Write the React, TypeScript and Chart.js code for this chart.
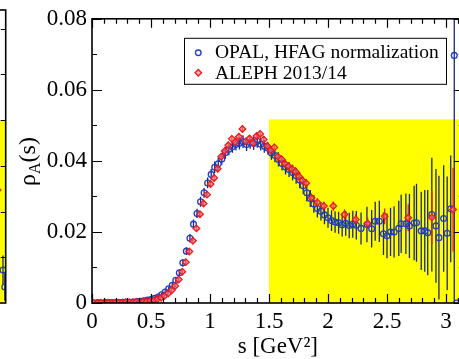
import React, { useEffect, useRef } from "react";
import { Chart, registerables } from "chart.js";
Chart.register(...registerables);

// ---------------- data ----------------
const opalS = [0.02, 0.05, 0.08, 0.11, 0.14, 0.17, 0.2, 0.23, 0.26, 0.29, 0.32, 0.35, 0.38, 0.41, 0.44,
  0.47, 0.5, 0.53, 0.56, 0.59, 0.62, 0.65, 0.68, 0.71, 0.74, 0.77, 0.8, 0.83, 0.86, 0.89, 0.92, 0.95, 0.98,
  1.01, 1.04, 1.07, 1.1, 1.13, 1.16, 1.19, 1.22, 1.25, 1.28, 1.31, 1.34, 1.37, 1.4, 1.43, 1.46, 1.49,
  1.52, 1.55, 1.58, 1.61, 1.64, 1.67, 1.7, 1.73, 1.76, 1.79, 1.82, 1.85, 1.88, 1.91, 1.94, 1.97,
  2.0, 2.03, 2.06, 2.09, 2.12, 2.15, 2.18, 2.21, 2.24, 2.28, 2.33, 2.37, 2.4, 2.435, 2.47, 2.5, 2.53,
  2.56, 2.6, 2.62, 2.66, 2.69, 2.73, 2.75, 2.79, 2.82, 2.845, 2.88, 2.915, 2.94, 2.98, 3.01, 3.04, 3.07, 3.09];
const opalV = [0.0, 0.0001, 0.0, 0.0001, 0.0001, 0.0001, 0.0, 0.0001, 0.0002, 0.0002, 0.0002, 0.0003, 0.0004, 0.0005, 0.0006,
  0.0008, 0.001, 0.0013, 0.0017, 0.0023, 0.0031, 0.004, 0.005, 0.0064, 0.0085, 0.0113, 0.0146, 0.0182, 0.0222, 0.0252, 0.0285, 0.031, 0.0338,
  0.0362, 0.0382, 0.0392, 0.0405, 0.0423, 0.0433, 0.044, 0.0446, 0.045, 0.0454, 0.0446, 0.0452, 0.0449, 0.0455, 0.0447, 0.0441, 0.0436,
  0.0422, 0.0415, 0.0404, 0.0393, 0.0383, 0.0376, 0.0367, 0.0358, 0.0346, 0.033, 0.031, 0.0294, 0.0279, 0.0266, 0.0258, 0.0248,
  0.024, 0.0232, 0.0228, 0.0226, 0.022, 0.0224, 0.0218, 0.0222, 0.0219, 0.021, 0.0221, 0.0209, 0.023, 0.023, 0.0195, 0.0189, 0.02,
  0.02, 0.021, 0.0223, 0.0223, 0.0217, 0.0225, 0.0226, 0.0203, 0.0203, 0.0198, 0.0249, 0.0217, 0.0184, 0.0238, 0.0196, 0.0265, 0.0697, 0.0];
const opalErr = [0.0002, 0.0002, 0.0002, 0.0002, 0.0002, 0.0002, 0.0002, 0.0002, 0.0002, 0.0002, 0.0002, 0.0002, 0.0002, 0.0002, 0.0002,
  0.0003, 0.0003, 0.0004, 0.0004, 0.0005, 0.0005, 0.0006, 0.0007, 0.0008, 0.0009, 0.001, 0.0011, 0.0012, 0.0013, 0.0013, 0.0014, 0.0014, 0.0015,
  0.0015, 0.0016, 0.0016, 0.0016, 0.0017, 0.0017, 0.0017, 0.0017, 0.0018, 0.0018, 0.0018, 0.0018, 0.0018, 0.0018, 0.0018, 0.0018, 0.0018,
  0.0019, 0.0019, 0.002, 0.002, 0.0021, 0.0021, 0.0022, 0.0022, 0.0023, 0.0023, 0.0024, 0.0024, 0.0025, 0.0025, 0.0026, 0.0026,
  0.0028, 0.0029, 0.003, 0.0031, 0.0033, 0.0035, 0.0036, 0.0038, 0.004, 0.0045, 0.005, 0.0053, 0.0055, 0.0058, 0.006, 0.0063, 0.0068,
  0.0072, 0.0078, 0.0082, 0.0085, 0.009, 0.0105, 0.011, 0.011, 0.0115, 0.012, 0.016, 0.016, 0.0174, 0.015, 0.016, 0.015, 0.09, 0.0];

const alephS = [0.015, 0.045, 0.075, 0.105, 0.135, 0.165, 0.195, 0.225, 0.255, 0.285, 0.315, 0.345, 0.375, 0.405, 0.435,
  0.465, 0.495, 0.525, 0.555, 0.585, 0.615, 0.645, 0.675, 0.705, 0.735, 0.765, 0.795, 0.825, 0.855, 0.885, 0.915, 0.945, 0.975,
  1.005, 1.035, 1.065, 1.095, 1.125, 1.155, 1.185, 1.215, 1.245, 1.275, 1.305, 1.335, 1.365, 1.395, 1.425, 1.455, 1.485,
  1.515, 1.545, 1.575, 1.605, 1.635, 1.665, 1.695, 1.725, 1.755, 1.785, 1.815,
  1.86, 1.91, 1.965, 2.045, 2.14, 2.235, 2.336, 2.48, 2.68, 2.88, 3.06];
const alephV = [0.0, 0.0, 0.0001, 0.0, 0.0001, 0.0, 0.0001, 0.0001, 0.0001, 0.0002, 0.0002, 0.0002, 0.0003, 0.0003, 0.0004,
  0.0005, 0.0006, 0.0008, 0.0011, 0.0015, 0.002, 0.0027, 0.0036, 0.0048, 0.0066, 0.0088, 0.0115, 0.0145, 0.0175, 0.021, 0.025, 0.028, 0.0305,
  0.0335, 0.0352, 0.0378, 0.0412, 0.0428, 0.0444, 0.0462, 0.0453, 0.0468, 0.049, 0.0455, 0.0463, 0.045, 0.047, 0.0476, 0.046, 0.0442,
  0.043, 0.0438, 0.0412, 0.0405, 0.0392, 0.0385, 0.0377, 0.037, 0.0356, 0.0345, 0.0337,
  0.0296, 0.0283, 0.0273, 0.0273, 0.0249, 0.0235, 0.0224, 0.0244, 0.024, 0.0241, 0.0263];
const alephErr = [0.0001, 0.0001, 0.0001, 0.0001, 0.0001, 0.0001, 0.0001, 0.0001, 0.0001, 0.0001, 0.0001, 0.0001, 0.0001, 0.0001, 0.0001,
  0.0001, 0.0002, 0.0002, 0.0002, 0.0003, 0.0003, 0.0003, 0.0004, 0.0004, 0.0005, 0.0005, 0.0006, 0.0006, 0.0007, 0.0007, 0.0008, 0.0008, 0.0009,
  0.0009, 0.001, 0.001, 0.001, 0.001, 0.001, 0.001, 0.001, 0.001, 0.001, 0.001, 0.001, 0.001, 0.001, 0.001, 0.001, 0.001,
  0.0011, 0.0011, 0.0011, 0.0011, 0.0011, 0.0011, 0.0012, 0.0012, 0.0012, 0.0012, 0.0012,
  0.0012, 0.0012, 0.0012, 0.0013, 0.0015, 0.0015, 0.0016, 0.0022, 0.0038, 0.0075, 0.0118];

const xTickValues = [0, 0.5, 1, 1.5, 2, 2.5, 3];
const yTickValues = [0, 0.02, 0.04, 0.06, 0.08];
const xMinorStep = 0.1;
const yMinorStep = 0.01;
const xRange = [0, 3.15];
const yRange = [0, 0.08];
const yellowFromS = 1.5;
const yellowTop = 0.0517;
const legendLabels = ["OPAL, HFAG normalization", "ALEPH 2013/14"];
const xTitle = "s [GeV\u00B2]";

// neighbouring panel (only its right edge is visible)
const fragRedS = [0.91];
const fragRedV = [2.47];
const fragRedErr = [1.55];
const fragBlueS = [0.97, 0.99];
const fragBlueV = [0.72, 0.35];
const fragBlueErr = [0.32, 0.3];
const fragYellowTop = 4;
const fragYRange = [0, 6.41];
const fragTickValues = [1, 2, 3, 4, 5, 6];

// ---------------- styles ----------------
const FONT = "'Liberation Serif', 'DejaVu Serif', serif";
const BLUE = "#1f3fc0";
const BLUE_BAR = "#18247e";
const RED = "#f01818";
const YELLOW = "#ffff00";

function pts(xs: number[], ys: number[]) {
  return xs.map((x, i) => ({ x, y: ys[i] }));
}

function drawErrors(ctx: CanvasRenderingContext2D, xs: any, ys: any, sArr: number[], vArr: number[], eArr: number[], color: string) {
  ctx.strokeStyle = color;
  ctx.lineWidth = 1.3;
  ctx.beginPath();
  for (let i = 0; i < sArr.length; i++) {
    if (!eArr[i]) continue;
    const px = xs.getPixelForValue(sArr[i]);
    ctx.moveTo(px, ys.getPixelForValue(vArr[i] - eArr[i]));
    ctx.lineTo(px, ys.getPixelForValue(vArr[i] + eArr[i]));
  }
  ctx.stroke();
}

const mainPlugin = {
  id: "mainDeco",
  beforeDatasetsDraw(chart: any) {
    const { ctx, chartArea: ca } = chart;
    const xs = chart.scales.x, ys = chart.scales.y;
    ctx.save();
    ctx.beginPath();
    ctx.rect(ca.left, ca.top, ca.right - ca.left, ca.bottom - ca.top);
    ctx.clip();
    const x0 = xs.getPixelForValue(yellowFromS);
    const yT = ys.getPixelForValue(yellowTop);
    ctx.fillStyle = YELLOW;
    ctx.fillRect(x0, yT, ca.right - x0, ys.getPixelForValue(0) - yT);
    drawErrors(ctx, xs, ys, opalS, opalV, opalErr, BLUE_BAR);
    drawErrors(ctx, xs, ys, alephS, alephV, alephErr, RED);
    ctx.restore();
  },
  afterDatasetsDraw(chart: any) {
    const { ctx, chartArea: ca } = chart;
    const xs = chart.scales.x, ys = chart.scales.y;
    ctx.save();
    // ticks (inward)
    ctx.strokeStyle = "#000";
    ctx.lineWidth = 1.2;
    ctx.beginPath();
    const nx = Math.round((xRange[1] - xRange[0]) / xMinorStep);
    for (let k = 0; k <= nx; k++) {
      const v = xRange[0] + k * xMinorStep;
      if (v > xRange[1] + 1e-9) break;
      const major = k % 5 === 0;
      const len = major ? 9 : 5;
      const px = Math.round(xs.getPixelForValue(v)) + 0.5;
      ctx.moveTo(px, ca.bottom); ctx.lineTo(px, ca.bottom - len);
      ctx.moveTo(px, ca.top); ctx.lineTo(px, ca.top + len);
    }
    const ny = Math.round((yRange[1] - yRange[0]) / yMinorStep);
    for (let k = 0; k <= ny; k++) {
      const v = yRange[0] + k * yMinorStep;
      const major = k % 2 === 0;
      const len = major ? 10 : 5;
      const py = Math.round(ys.getPixelForValue(v)) + 0.5;
      ctx.moveTo(ca.left, py); ctx.lineTo(ca.left + len, py);
      ctx.moveTo(ca.right, py); ctx.lineTo(ca.right - len, py);
    }
    ctx.stroke();
    // frame
    ctx.lineWidth = 1.6;
    ctx.strokeRect(ca.left, ca.top, ca.right - ca.left, ca.bottom - ca.top);

    // legend box
    const lx = ca.left + 92.5, ly = ca.top + 19.5, lw = 262, lh = 46;
    ctx.fillStyle = "#fff";
    ctx.fillRect(lx, ly, lw, lh);
    ctx.lineWidth = 1;
    ctx.strokeStyle = "#000";
    ctx.strokeRect(lx, ly, lw, lh);
    ctx.font = `19.5px ${FONT}`;
    ctx.fillStyle = "#000";
    ctx.textBaseline = "alphabetic";
    ctx.textAlign = "left";
    ctx.fillText(legendLabels[0], lx + 30.5, ly + 35.5 - 16);
    ctx.fillText(legendLabels[1], lx + 30.5, ly + 56.5 - 16);
    // legend markers
    const mx = lx + 13.8;
    ctx.lineWidth = 1.3;
    ctx.strokeStyle = BLUE;
    ctx.beginPath();
    ctx.arc(mx, ly + 14.5, 2.8, 0, Math.PI * 2);
    ctx.stroke();
    ctx.strokeStyle = RED;
    ctx.fillStyle = "rgba(255,120,120,0.6)";
    ctx.beginPath();
    const my = ly + 34.5, r = 3.3;
    ctx.moveTo(mx, my - r); ctx.lineTo(mx + r, my); ctx.lineTo(mx, my + r); ctx.lineTo(mx - r, my); ctx.closePath();
    ctx.fill(); ctx.stroke();

    // y title: rho_A(s)
    ctx.fillStyle = "#000";
    ctx.translate(35, 161.5);
    ctx.rotate(-Math.PI / 2);
    ctx.font = `24px ${FONT}`;
    const w1 = ctx.measureText("\u03C1").width;
    const w3 = ctx.measureText("(s)").width;
    ctx.font = `16px ${FONT}`;
    const w2 = ctx.measureText("A").width;
    let x = -(w1 + w2 + w3) / 2;
    ctx.font = `24px ${FONT}`;
    ctx.fillText("\u03C1", x, 0);
    x += w1;
    ctx.font = `16px ${FONT}`;
    ctx.fillText("A", x, 5);
    x += w2;
    ctx.font = `24px ${FONT}`;
    ctx.fillText("(s)", x, 0);
    ctx.restore();
  },
};

const fragPlugin = {
  id: "fragDeco",
  beforeDatasetsDraw(chart: any) {
    const { ctx, chartArea: ca } = chart;
    const xs = chart.scales.x, ys = chart.scales.y;
    ctx.save();
    const yT = ys.getPixelForValue(fragYellowTop);
    ctx.fillStyle = YELLOW;
    ctx.fillRect(ca.left, yT, ca.right - ca.left, ca.bottom - yT);
    drawErrors(ctx, xs, ys, fragBlueS, fragBlueV, fragBlueErr, BLUE_BAR);
    drawErrors(ctx, xs, ys, fragRedS, fragRedV, fragRedErr, RED);
    ctx.restore();
  },
  afterDatasetsDraw(chart: any) {
    const { ctx, chartArea: ca } = chart;
    const ys = chart.scales.y;
    ctx.save();
    ctx.strokeStyle = "#000";
    ctx.lineWidth = 1.2;
    ctx.beginPath();
    for (const v of fragTickValues) {
      const py = Math.round(ys.getPixelForValue(v)) + 0.5;
      ctx.moveTo(ca.right, py); ctx.lineTo(ca.right - 5, py);
    }
    ctx.stroke();
    ctx.lineWidth = 1.6;
    ctx.strokeRect(ca.left, ca.top, ca.right - ca.left, ca.bottom - ca.top);
    ctx.restore();
  },
};

export default function App() {
  const mainRef = useRef<HTMLCanvasElement>(null);
  const fragRef = useRef<HTMLCanvasElement>(null);

  useEffect(() => {
    document.body.style.margin = "0";
    document.body.style.overflow = "hidden";
    const tickFont = { family: FONT, size: 23 };
    const main = new Chart(mainRef.current as HTMLCanvasElement, {
      type: "scatter",
      data: {
        datasets: [
          {
            label: legendLabels[0],
            data: pts(opalS, opalV),
            pointStyle: "circle",
            pointRadius: 2.9,
            borderWidth: 1.3,
            borderColor: BLUE,
            backgroundColor: "rgba(255,255,255,0)",
            showLine: false,
            order: 1,
          },
          {
            label: legendLabels[1],
            data: pts(alephS, alephV),
            pointStyle: "rectRot",
            pointRadius: 3.3,
            borderWidth: 1.3,
            borderColor: RED,
            backgroundColor: "rgba(255,120,120,0.6)",
            showLine: false,
            order: 0,
          },
        ],
      },
      options: {
        responsive: false,
        animation: false,
        devicePixelRatio: 1,
        layout: { padding: { left: 0, top: 16, right: 16.3, bottom: 0 } },
        plugins: { legend: { display: false }, tooltip: { enabled: false } },
        scales: {
          x: {
            type: "linear",
            min: xRange[0],
            max: xRange[1],
            grid: { display: false, drawTicks: false },
            border: { display: false },
            afterBuildTicks: (s: any) => { s.ticks = xTickValues.map((value) => ({ value })); },
            ticks: { font: tickFont, color: "#000", padding: 5, maxRotation: 0, autoSkip: false, callback: (v: any) => String(v) },
            title: { display: true, text: xTitle, font: tickFont, color: "#000", padding: { top: 0, bottom: 9 } },
            afterFit: (s: any) => { s.height = 67; },
          },
          y: {
            type: "linear",
            min: yRange[0],
            max: yRange[1],
            grid: { display: false, drawTicks: false },
            border: { display: false },
            afterBuildTicks: (s: any) => { s.ticks = yTickValues.map((value) => ({ value })); },
            ticks: { font: tickFont, color: "#000", padding: 5, autoSkip: false, callback: (v: any) => String(v) },
            afterFit: (s: any) => { s.width = 92; },
          },
        },
      },
      plugins: [mainPlugin],
    } as any);

    const frag = new Chart(fragRef.current as HTMLCanvasElement, {
      type: "scatter",
      data: {
        datasets: [
          {
            data: pts(fragBlueS, fragBlueV),
            pointStyle: "circle",
            pointRadius: 2.9,
            borderWidth: 1.3,
            borderColor: BLUE,
            backgroundColor: "rgba(255,255,255,0)",
            order: 1,
          },
          {
            data: pts(fragRedS, fragRedV),
            pointStyle: "rectRot",
            pointRadius: 3.3,
            borderWidth: 1.3,
            borderColor: RED,
            backgroundColor: "rgba(255,120,120,0.6)",
            order: 0,
          },
        ],
      },
      options: {
        responsive: false,
        animation: false,
        devicePixelRatio: 1,
        layout: { padding: { left: 0, top: 10, right: 1, bottom: 56 } },
        plugins: { legend: { display: false }, tooltip: { enabled: false } },
        scales: {
          x: { type: "linear", display: false, min: 0, max: 1 },
          y: { type: "linear", display: false, min: fragYRange[0], max: fragYRange[1] },
        },
      },
      plugins: [fragPlugin],
    } as any);

    return () => {
      main.destroy();
      frag.destroy();
    };
  }, []);

  return (
    <div style={{ position: "relative", width: 459, height: 359, overflow: "hidden", background: "#fff" }}>
      <canvas ref={fragRef} width={101} height={359} style={{ position: "absolute", left: -90, top: 0, width: 101, height: 359 }} />
      <canvas ref={mainRef} width={480} height={370} style={{ position: "absolute", left: 0, top: 0, width: 480, height: 370 }} />
    </div>
  );
}
